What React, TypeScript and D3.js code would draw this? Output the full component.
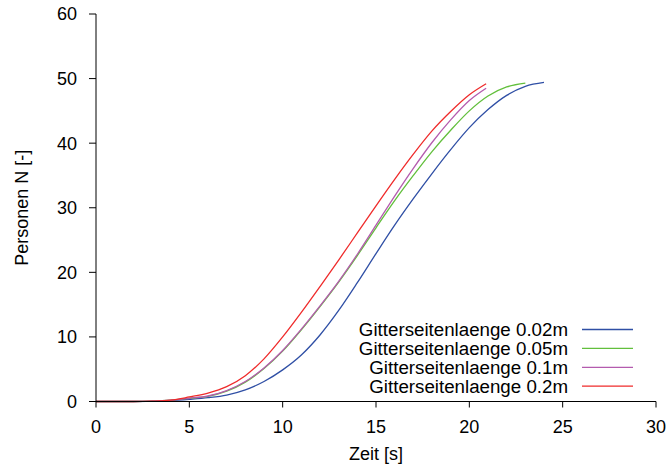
import React from 'react';
import * as d3 from 'd3';

// time axis in seconds, one row of values per grid size
const timeBlue = [0, 1, 2, 3, 4, 5, 6, 7, 8, 9, 10, 11, 12, 13, 14, 15, 16, 17, 18, 19, 20, 21, 22, 23, 24];
const valBlue = [0, 0, 0, 0.05, 0.15, 0.35, 0.6, 1.0, 1.8, 3.1, 4.9, 7.2, 10.3, 14.1, 18.4, 22.9, 27.3, 31.4, 35.3, 39.0, 42.4, 45.2, 47.4, 48.8, 49.4];

const timeGreen = [0, 1, 2, 3, 4, 5, 6, 7, 8, 9, 10, 11, 12, 13, 14, 15, 16, 17, 18, 19, 20, 21, 22, 23];
const valGreen = [0, 0, 0, 0.05, 0.2, 0.5, 0.8, 1.6, 3.0, 5.1, 7.8, 11.1, 14.7, 18.5, 22.6, 26.9, 31.1, 35.0, 38.7, 42.0, 45.0, 47.3, 48.7, 49.3];

const timePurple = [0, 1, 2, 3, 4, 5, 6, 7, 8, 9, 10, 11, 12, 13, 14, 15, 16, 17, 18, 19, 20, 20.9];
const valPurple = [0, 0, 0, 0.05, 0.2, 0.5, 0.85, 1.7, 3.1, 5.2, 7.9, 11.2, 14.8, 18.6, 22.8, 27.3, 31.8, 36.1, 40.1, 43.6, 46.6, 48.5];

const timeRed = [0, 1, 2, 3, 4, 5, 6, 7, 8, 9, 10, 11, 12, 13, 14, 15, 16, 17, 18, 19, 20, 20.9];
const valRed = [0, 0, 0, 0.05, 0.2, 0.7, 1.3, 2.3, 4.0, 6.6, 10.0, 13.8, 17.8, 21.9, 26.1, 30.3, 34.4, 38.3, 41.9, 44.9, 47.5, 49.2];

const legendLabels = ['Gitterseitenlaenge 0.02m', 'Gitterseitenlaenge 0.05m', 'Gitterseitenlaenge 0.1m', 'Gitterseitenlaenge 0.2m'];
const colors = ['#2f4fa5', '#62bf3c', '#b45bae', '#ef2b2b'];
const xTicks = [0, 5, 10, 15, 20, 25, 30];
const yTicks = [0, 10, 20, 30, 40, 50, 60];

const series = [
  { t: timeBlue, v: valBlue },
  { t: timeGreen, v: valGreen },
  { t: timePurple, v: valPurple },
  { t: timeRed, v: valRed },
];

const W = 669;
const H = 467;
const font = '"Liberation Sans", Arial, Helvetica, sans-serif';

export default function App() {
  const x = d3.scaleLinear().domain([0, 30]).range([96, 656]);
  const y = d3.scaleLinear().domain([0, 60]).range([401.5, 14]);

  const line = d3.line<[number, number]>()
    .x(d => x(d[0]))
    .y(d => y(d[1]))
    .curve(d3.curveMonotoneX);

  return (
    <svg width={W} height={H} style={{ position: 'absolute', left: 0, top: 0, background: '#fff' }}
      fontFamily={font}>
      {/* curves */}
      {series.map((s, i) => (
        <path key={i} d={line(s.t.map((t, j) => [t, s.v[j]]) as [number, number][]) || ''}
          fill="none" stroke={colors[i]} strokeWidth={1.3} />
      ))}

      {/* y axis */}
      <line x1={x(0)} x2={x(0)} y1={y(60)} y2={y(0)} stroke="#000" strokeWidth={1} />
      {yTicks.map(v => (
        <g key={v}>
          <line x1={x(0) - 7} x2={x(0)} y1={y(v)} y2={y(v)} stroke="#000" />
          <text x={77} y={y(v)} dy="0.36em" textAnchor="end" fontSize={18}>{v}</text>
        </g>
      ))}

      {/* x axis */}
      <line x1={x(0)} x2={x(30)} y1={y(0)} y2={y(0)} stroke="#000" strokeWidth={1} />
      {xTicks.map(v => (
        <g key={v}>
          <line x1={x(v)} x2={x(v)} y1={y(0)} y2={y(0) + 6} stroke="#000" />
          <text x={x(v)} y={433} textAnchor="middle" fontSize={18}>{v}</text>
        </g>
      ))}

      <text x={376} y={460} textAnchor="middle" fontSize={18}>Zeit [s]</text>
      <text transform={`translate(28,${(y(0) + y(60)) / 2}) rotate(-90)`} textAnchor="middle" fontSize={18}>
        Personen N [-]
      </text>

      {/* legend */}
      {legendLabels.map((lab, i) => {
        const ly = 329.5 + i * 18.9;
        return (
          <g key={lab}>
            <text x={568} y={ly + 6.5} textAnchor="end" fontSize={18}
              transform={`translate(568,0) scale(1.04,1) translate(-568,0)`}>{lab}</text>
            <line x1={582} x2={633} y1={ly} y2={ly} stroke={colors[i]} strokeWidth={1.3} />
          </g>
        );
      })}
    </svg>
  );
}
